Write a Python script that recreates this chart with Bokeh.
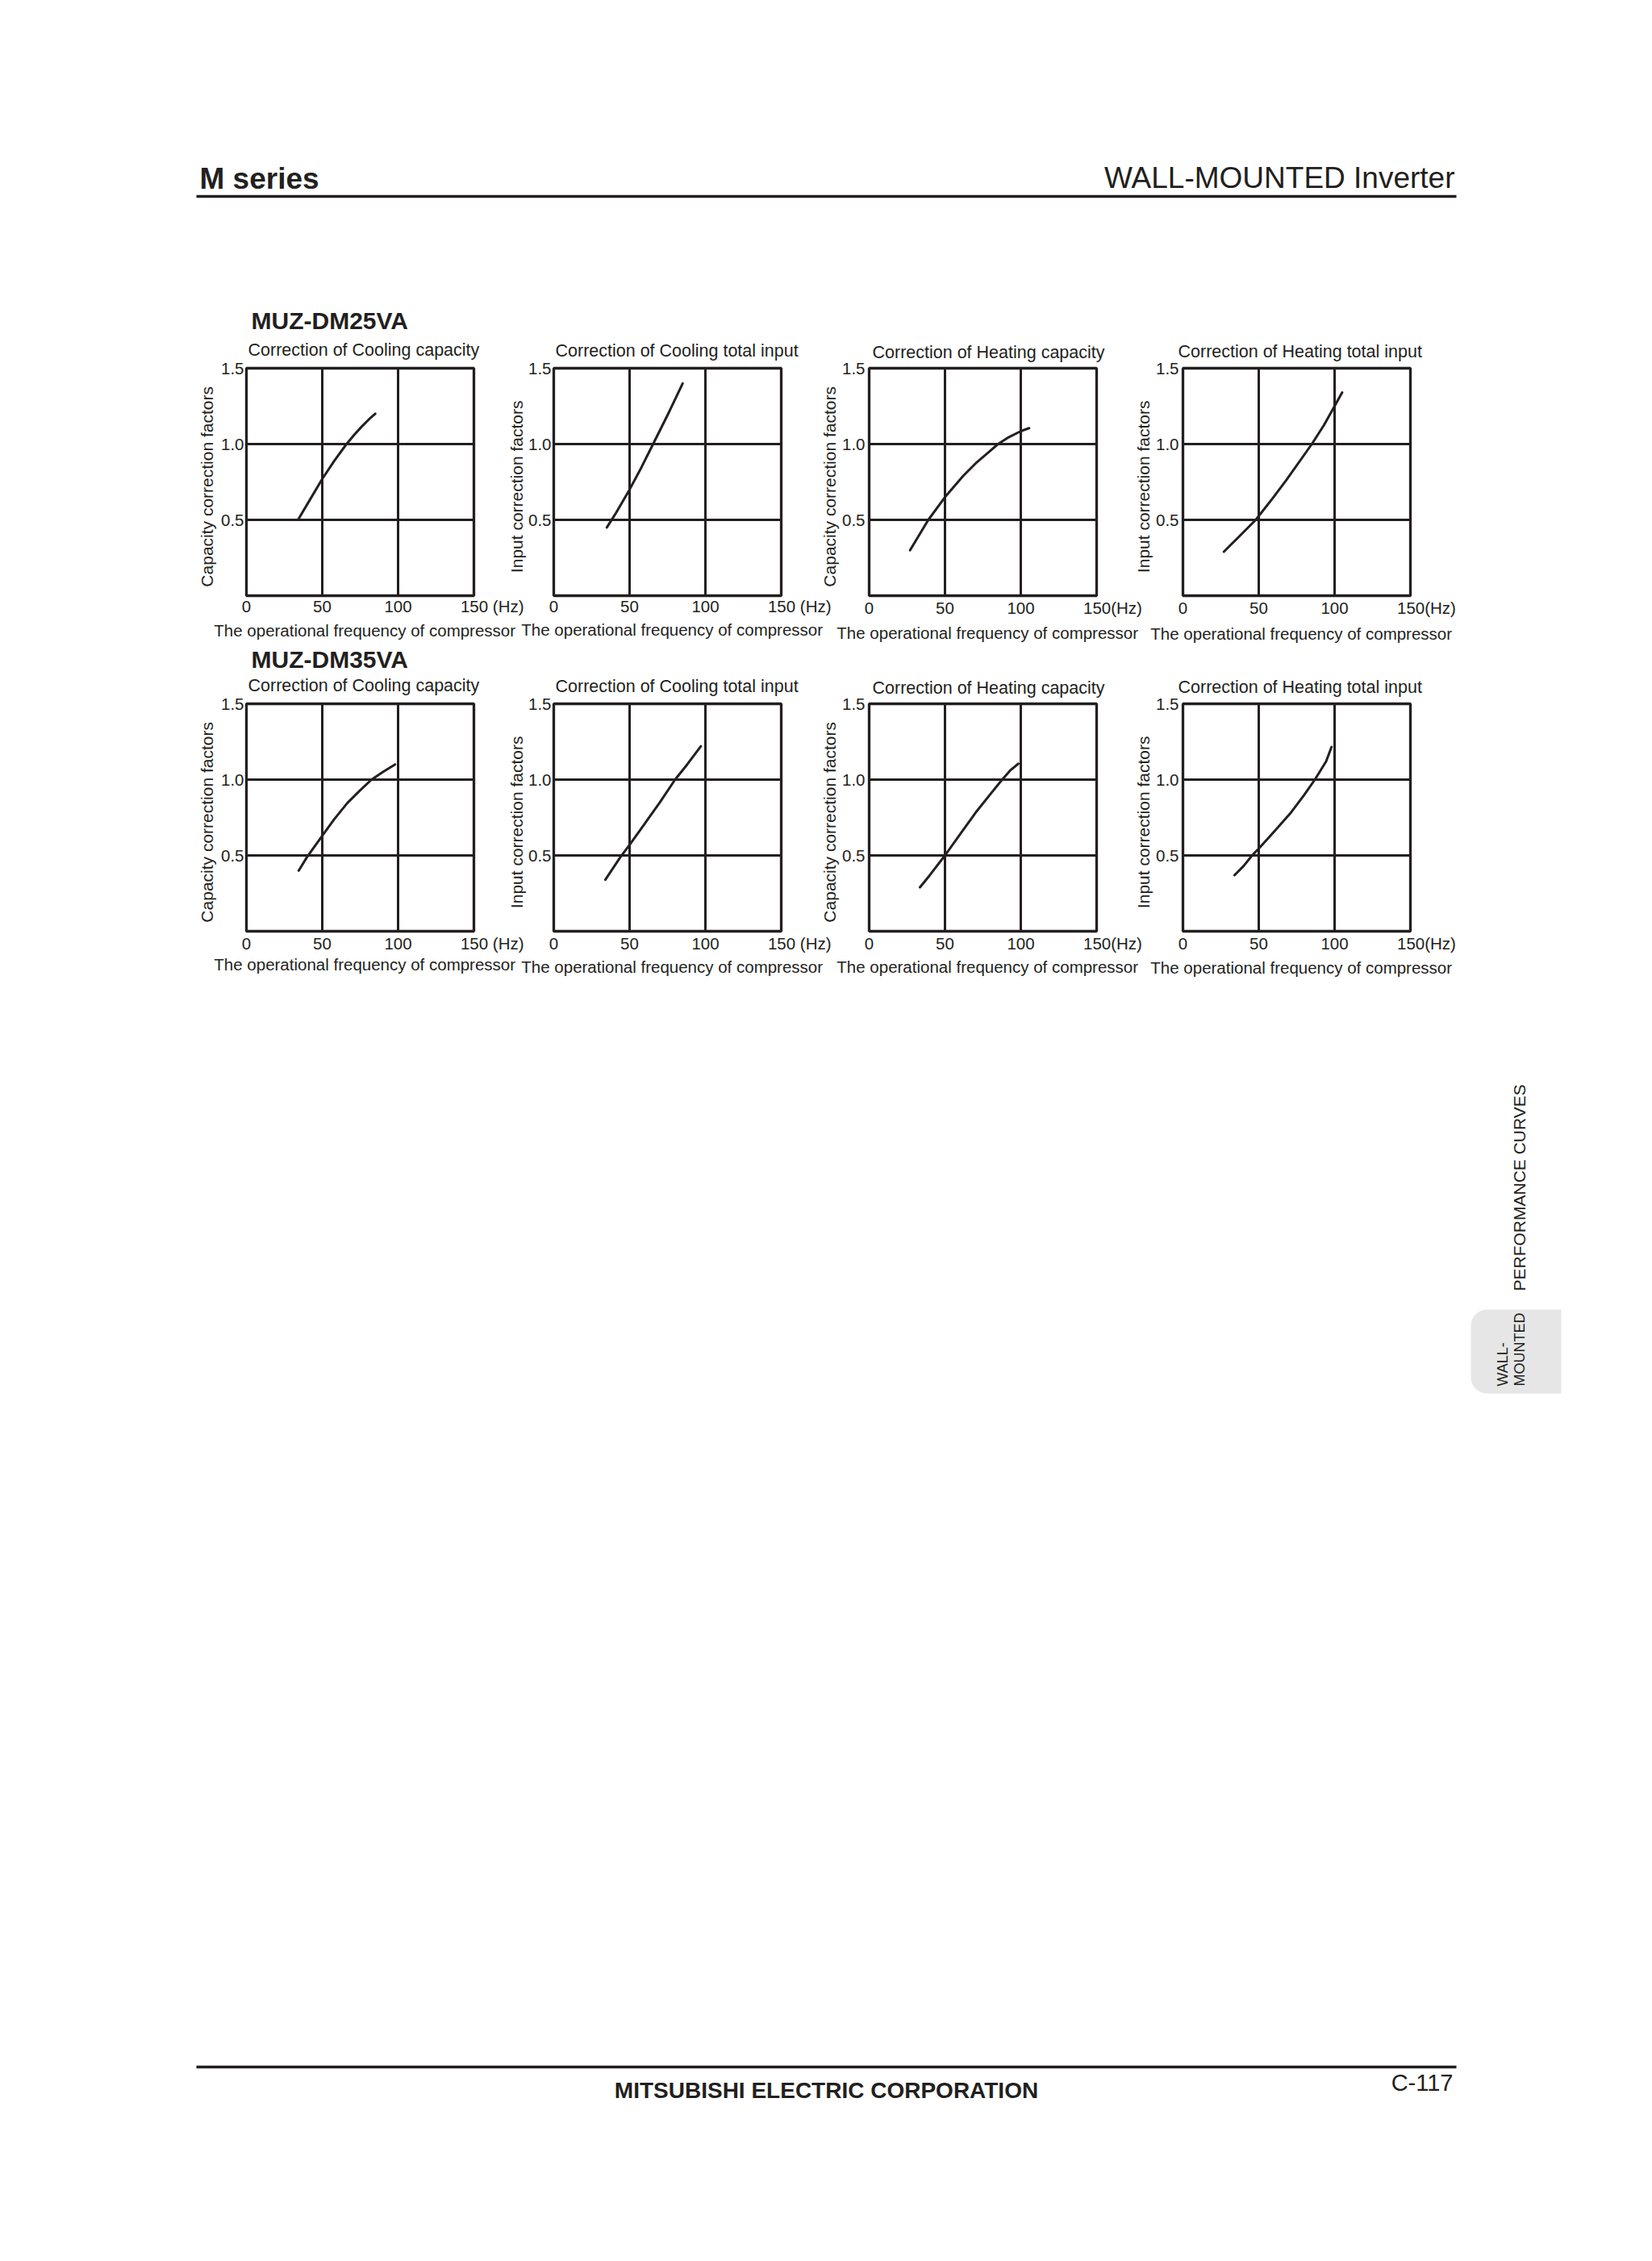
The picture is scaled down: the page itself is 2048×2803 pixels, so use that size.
import numpy as np
from bokeh.plotting import figure
from bokeh.models import FixedTicker, PrintfTickFormatter, Row, Column
from bokeh.embed import file_html
from bokeh.resources import INLINE
from bokeh.core.properties import value

# ---------------- data ----------------
MODELS = ["MUZ-DM25VA", "MUZ-DM35VA"]
TITLES = ["Correction of Cooling capacity", "Correction of Cooling total input",
          "Correction of Heating capacity", "Correction of Heating total input"]
Y_LABELS = ["Capacity correction factors", "Input correction factors",
            "Capacity correction factors", "Input correction factors"]
X_LABEL = "The operational frequency of compressor"
X_UNIT = "(Hz)"
X_TICKS = [0, 50, 100, 150]
Y_TICKS = [0.5, 1.0, 1.5]

# MUZ-DM25VA
dm25_cool_cap_hz = [34, 42, 50, 58, 66, 71, 76, 81, 85]
dm25_cool_cap_f = [0.50, 0.635, 0.77, 0.89, 1.00, 1.06, 1.115, 1.165, 1.20]
dm25_cool_inp_hz = [35, 41, 50, 58, 65.5, 75, 80, 85]
dm25_cool_inp_f = [0.45, 0.545, 0.70, 0.85, 1.00, 1.19, 1.295, 1.40]
dm25_heat_cap_hz = [27, 33, 39, 50, 62, 71, 78, 85, 92, 100, 105.5]
dm25_heat_cap_f = [0.30, 0.40, 0.50, 0.65, 0.79, 0.88, 0.94, 1.00, 1.045, 1.085, 1.105]
dm25_heat_inp_hz = [27, 35, 48, 59, 68, 85, 93, 100, 105]
dm25_heat_inp_f = [0.29, 0.37, 0.50, 0.64, 0.76, 1.00, 1.125, 1.25, 1.34]

# MUZ-DM35VA
dm35_cool_cap_hz = [34.5, 40, 50, 58, 66.5, 74.5, 82.5, 90, 98]
dm35_cool_cap_f = [0.40, 0.49, 0.63, 0.74, 0.845, 0.925, 1.00, 1.05, 1.10]
dm35_cool_inp_hz = [34, 44, 50, 60, 70, 80, 88, 97]
dm35_cool_inp_f = [0.34, 0.49, 0.57, 0.71, 0.85, 1.00, 1.10, 1.22]
dm35_heat_cap_hz = [33.5, 40, 50, 60, 70.8, 80, 87.7, 93, 98.4]
dm35_heat_cap_f = [0.29, 0.37, 0.50, 0.64, 0.79, 0.905, 1.00, 1.06, 1.105]
dm35_heat_inp_hz = [34, 40, 45.6, 50, 60, 71.4, 80, 87, 94.4, 98]
dm35_heat_inp_f = [0.37, 0.43, 0.50, 0.545, 0.655, 0.785, 0.90, 1.00, 1.12, 1.215]

SERIES = [
    [(dm25_cool_cap_hz, dm25_cool_cap_f), (dm25_cool_inp_hz, dm25_cool_inp_f),
     (dm25_heat_cap_hz, dm25_heat_cap_f), (dm25_heat_inp_hz, dm25_heat_inp_f)],
    [(dm35_cool_cap_hz, dm35_cool_cap_f), (dm35_cool_inp_hz, dm35_cool_inp_f),
     (dm35_heat_cap_hz, dm35_heat_cap_f), (dm35_heat_inp_hz, dm35_heat_inp_f)],
]

# ---------------- layout / style ----------------
INK = "#231f20"
FONT = "Liberation Sans"
NB = "\u00a0"
PAGE_W = 2040
FRAME = 282
FRAME_LEFT = [305, 686, 1077, 1466]      # page x of each plot frame
L_B, R_B, B_B = 85, 65, 72
ROW_FRAME_TOP = [456, 872]
ROW_FIG_TOP = [400, 816]
HEADER = (0, 420)
STRIP = (796, 836)
BODY = (1226, 2795)
BASE_K = 0.32   # text glyph baseline correction (fraction of font size)

TITLE_DX = [2, 2, 4, -6]
TITLE_STD = [21, 19, 16, 17]
Y_STD = [3, 3, 5, 5]
Y_ALS = [3, 0, 1, 1]
X_STD = [[1, 1, 3, 3], [3, 3, 3, 3]]
X_ALS = [[4, 3, 5, 6], [0, 3, 3, 4]]
HZ_JOINED = [[False, False, True, True], [False, False, True, True]]


def page_canvas(top, bottom):
    p = figure(width=PAGE_W, height=bottom - top, x_range=(0, PAGE_W), y_range=(-bottom, -top),
               x_axis_type=None, y_axis_type=None, output_backend="svg",
               toolbar_location=None, tools="", min_border=0, title=None)
    p.outline_line_color = None
    p.background_fill_color = None
    p.border_fill_color = None
    return p


def put_text(p, X, Y, s, size, style="normal", align="left", baseline="alphabetic", angle=0.0):
    px = float(size.replace("px", ""))
    yy = Y - BASE_K * px if baseline == "alphabetic" else Y
    p.text(x=[X], y=[-yy], text=[s], text_font=value(FONT), text_font_size=size,
           text_font_style=style, text_align=align, text_baseline=baseline,
           text_color=INK, angle=angle)


def chart(r, c):
    hz, fac = SERIES[r][c]
    T = ROW_FRAME_TOP[r] - ROW_FIG_TOP[r]
    p = figure(width=L_B + FRAME + R_B, height=T + FRAME + B_B,
               x_range=(0, 150), y_range=(0, 1.5), title=TITLES[c],
               output_backend="svg", toolbar_location=None, tools="",
               min_border_left=L_B, min_border_right=R_B, min_border_top=T, min_border_bottom=B_B)
    p.background_fill_color = None
    p.border_fill_color = None
    p.outline_line_color = INK
    p.outline_line_width = 3.3

    p.title.align = "left"
    p.title.offset = TITLE_DX[c]
    p.title.standoff = TITLE_STD[c]
    p.title.text_font = FONT
    p.title.text_font_size = "21.5px"
    p.title.text_font_style = "normal"
    p.title.text_color = INK

    xa = p.xaxis[0]
    ya = p.yaxis[0]
    xa.ticker = FixedTicker(ticks=X_TICKS)
    ya.ticker = FixedTicker(ticks=Y_TICKS)
    ya.formatter = PrintfTickFormatter(format="%.1f")
    xa.axis_label = NB * 2 + X_LABEL
    ya.axis_label = Y_LABELS[c] + NB * 2
    for ax in (xa, ya):
        ax.axis_line_color = None
        ax.major_tick_line_color = None
        ax.minor_tick_line_color = None
        ax.major_tick_in = 0
        ax.major_tick_out = 0
        ax.minor_tick_in = 0
        ax.minor_tick_out = 0
        ax.major_label_text_font = FONT
        ax.major_label_text_font_size = "20.5px"
        ax.major_label_text_color = INK
        ax.axis_label_text_font = FONT
        ax.axis_label_text_font_style = "normal"
        ax.axis_label_text_color = INK
    xa.axis_label_text_font_size = "20.5px"
    ya.axis_label_text_font_size = "21px"
    xa.major_label_standoff = X_STD[r][c]
    xa.axis_label_standoff = X_ALS[r][c]
    ya.major_label_standoff = Y_STD[c]
    ya.axis_label_standoff = Y_ALS[c]

    # last tick carries the unit, padded on the left so that "150" stays centred on its tick
    if HZ_JOINED[r][c]:
        xa.major_label_overrides = {150: NB * 7 + "150" + X_UNIT}
    else:
        xa.major_label_overrides = {150: NB * 8 + "150" + NB + X_UNIT}

    for g in (p.xgrid[0], p.ygrid[0]):
        g.grid_line_color = INK
        g.grid_line_width = 3
        g.grid_line_alpha = 1.0

    p.line(hz, fac, line_color=INK, line_width=3, line_cap="round", line_join="round")

    left = FRAME_LEFT[c] - L_B
    prev_right = 0 if c == 0 else FRAME_LEFT[c - 1] - L_B + L_B + FRAME + R_B
    p.margin = (0, 0, 0, left - prev_right)
    return p


# ---------------- header ----------------
header = page_canvas(*HEADER)
put_text(header, 247, 233, "M series", "37px", style="bold")
put_text(header, 1803, 232, "WALL-MOUNTED Inverter", "37px", align="right")
header.line(x=[243, 1805], y=[-243, -243], line_width=3.5, line_color=INK)
put_text(header, 311, 407, MODELS[0], "30px", style="bold")

row1 = Row(children=[chart(0, c) for c in range(4)], spacing=0)
row1.margin = (ROW_FIG_TOP[0] - HEADER[1], 0, 0, 0)
row1_bottom = ROW_FRAME_TOP[0] + FRAME + B_B

strip = page_canvas(*STRIP)
put_text(strip, 311, 827, MODELS[1], "30px", style="bold")
strip.margin = (STRIP[0] - row1_bottom, 0, 0, 0)

row2 = Row(children=[chart(1, c) for c in range(4)], spacing=0)
row2.margin = (ROW_FIG_TOP[1] - STRIP[1], 0, 0, 0)
row2_bottom = ROW_FRAME_TOP[1] + FRAME + B_B

# ---------------- body: side tab + footer ----------------
body = page_canvas(*BODY)
body.margin = (BODY[0] - row2_bottom, 0, 0, 0)
x0, x1, y0, y1, rad = 1823, 1935, 1623, 1727, 20
th1 = np.linspace(np.pi / 2, np.pi, 12)
th2 = np.linspace(np.pi, 1.5 * np.pi, 12)
px = list(x0 + rad + rad * np.cos(th1)) + list(x0 + rad + rad * np.cos(th2)) + [x1, x1]
py = list(y0 + rad - rad * np.sin(th1)) + list(y1 - rad - rad * np.sin(th2)) + [y1, y0]
body.patch(px, [-v for v in py], fill_color="#e6e6e6", line_color=None)
put_text(body, 1862, 1718, "WALL-", "18px", baseline="middle", angle=np.pi / 2)
put_text(body, 1883, 1718, "MOUNTED", "18px", baseline="middle", angle=np.pi / 2)
put_text(body, 1883, 1600, "PERFORMANCE CURVES", "21px", baseline="middle", angle=np.pi / 2)

body.line(x=[243, 1805], y=[-2562, -2562], line_width=3.5, line_color=INK)
put_text(body, 1024, 2600, "MITSUBISHI ELECTRIC CORPORATION", "28px", style="bold", align="center")
put_text(body, 1801, 2591, "C-117", "29px", align="right")

page = Column(children=[header, row1, strip, row2, body], spacing=0)

with open("out.html", "w") as f:
    f.write(file_html(page, INLINE))
